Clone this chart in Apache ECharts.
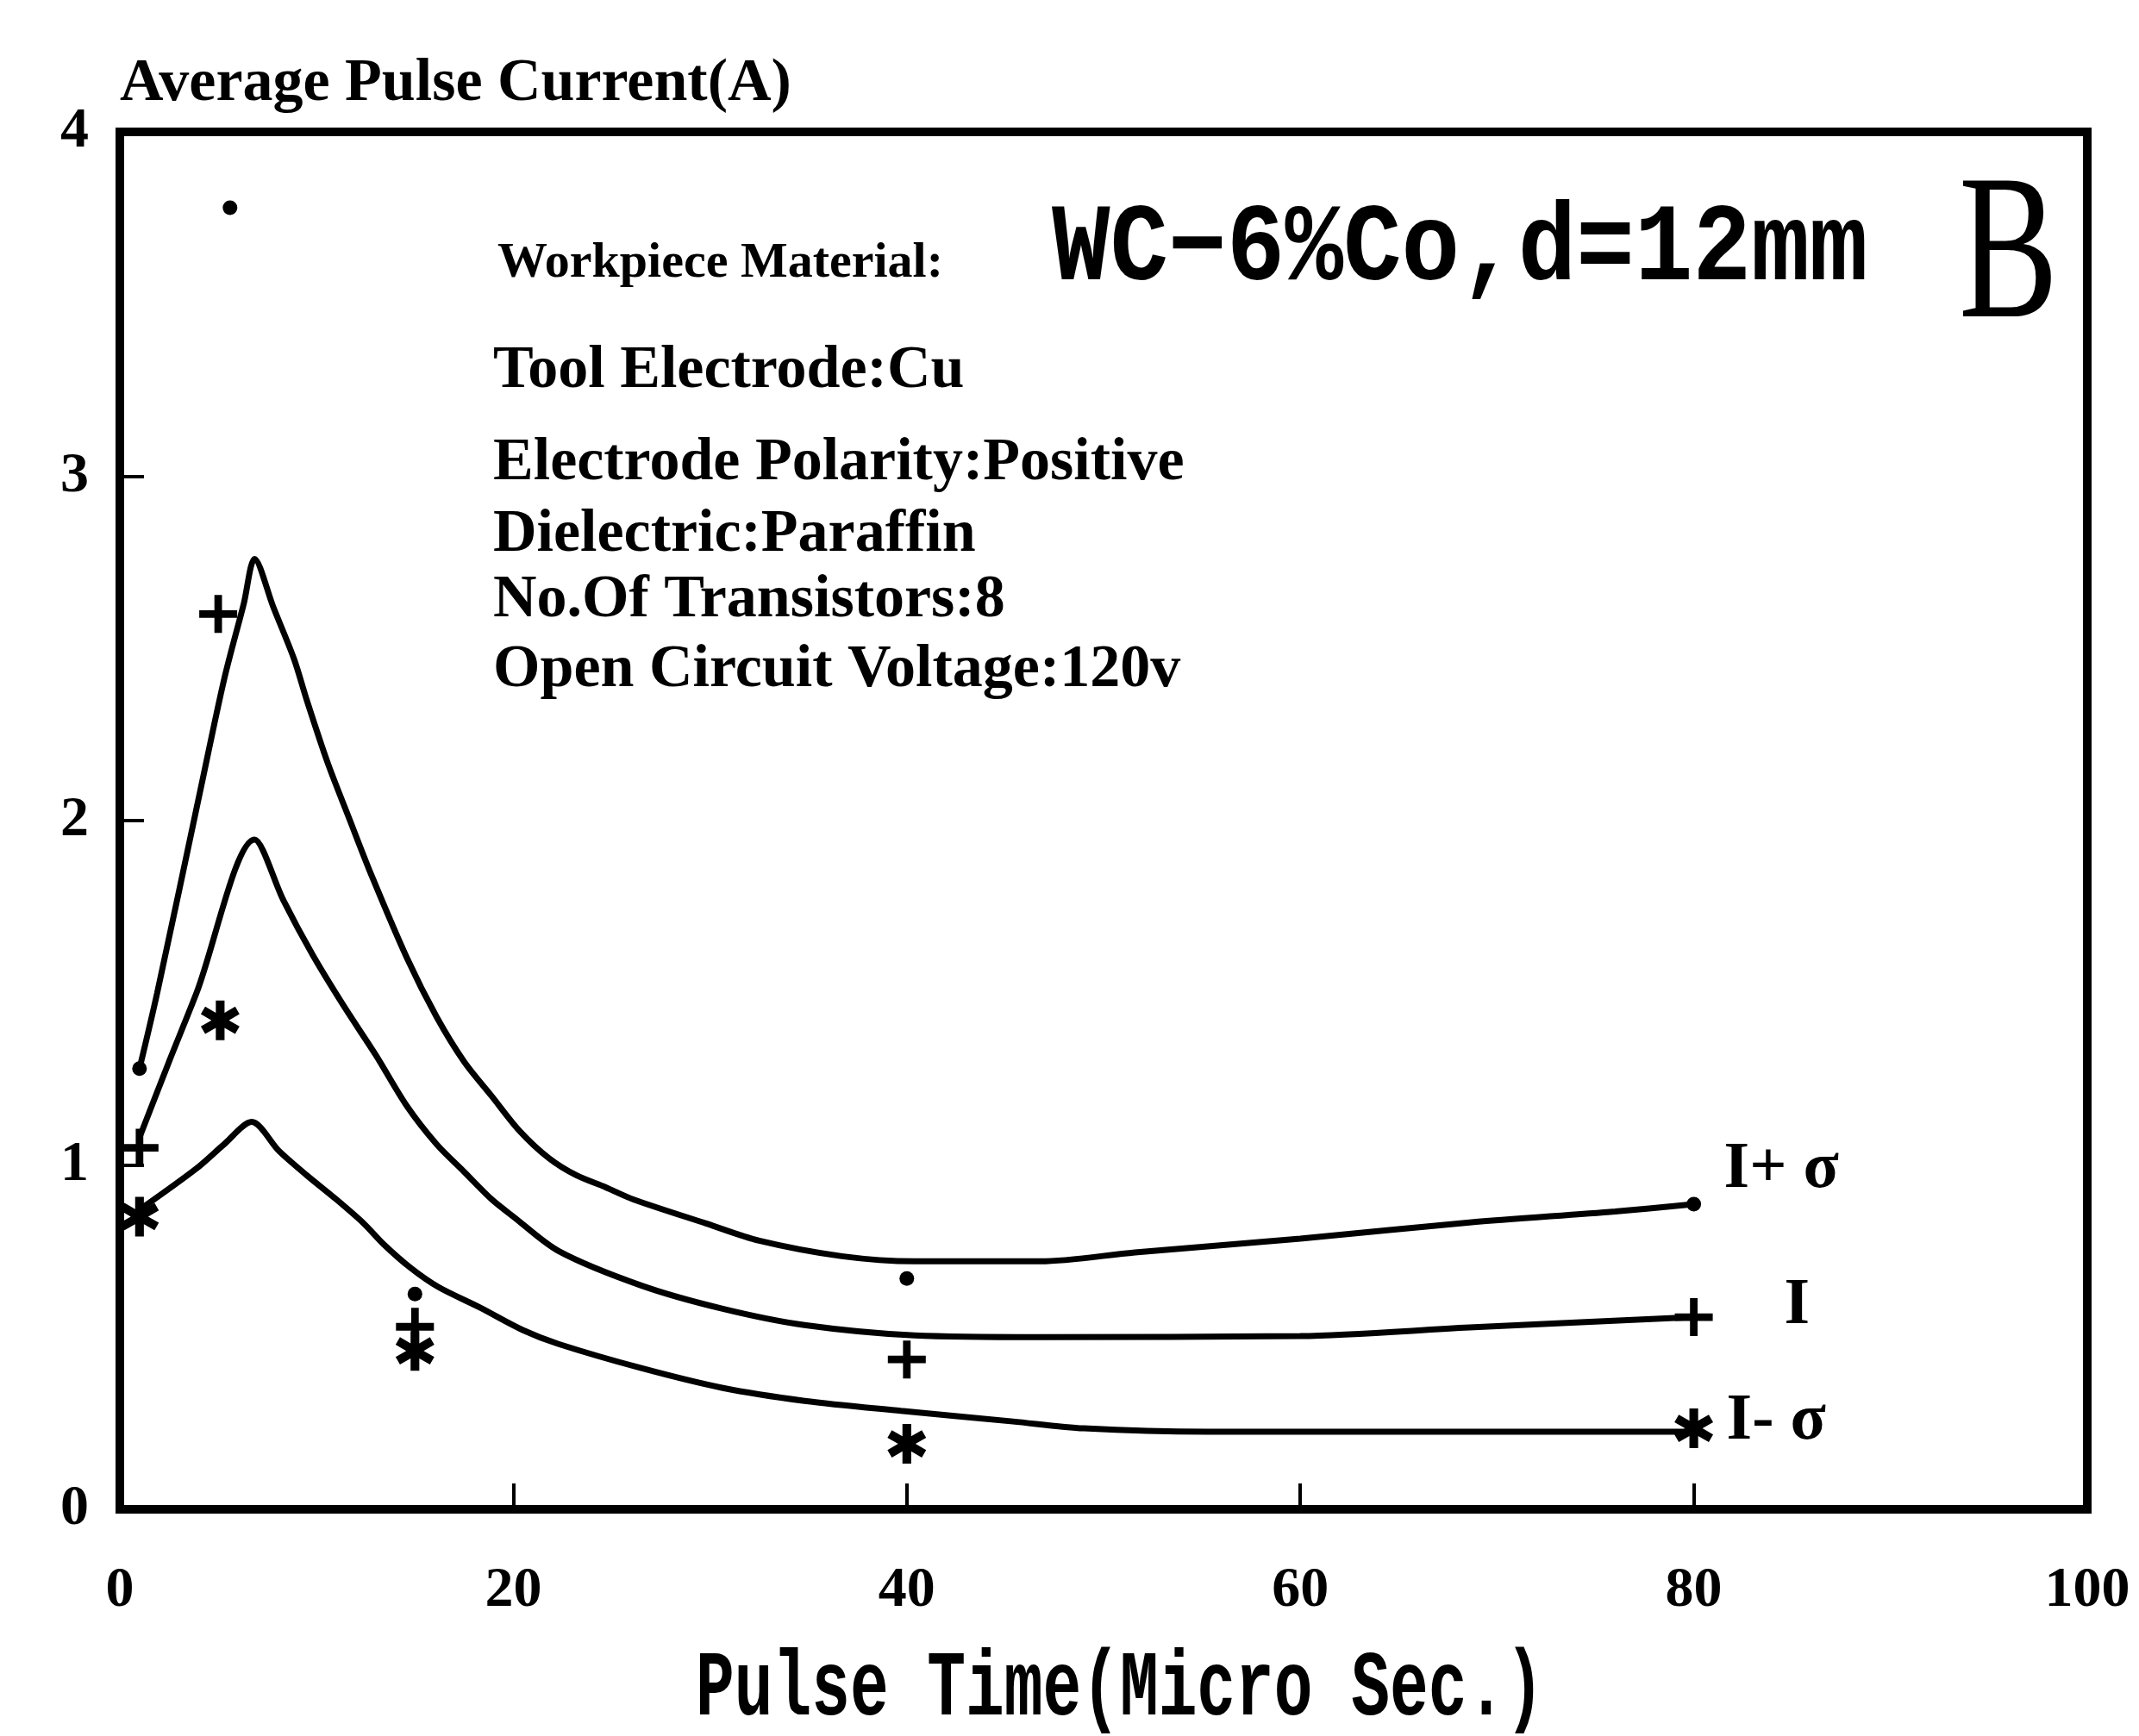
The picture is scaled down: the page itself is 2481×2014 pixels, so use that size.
<!DOCTYPE html>
<html>
<head>
<meta charset="utf-8">
<title>Average Pulse Current vs Pulse Time</title>
<script src="https://cdn.jsdelivr.net/npm/echarts@6/dist/echarts.min.js"></script>
<style>
  html, body { margin: 0; padding: 0; background: #fff; }
  #chart { width: 2481px; height: 2014px; }
</style>
</head>
<body>
<div id="chart"></div>
<script>
// fitted curves: [pulse time (µs), current (A)]
const curvePlus = [
  [1, 1.28], [1.9, 1.50], [4.1, 2.09], [5.3, 2.41], [6.3, 2.63], [6.85, 2.76],
  [7.8, 2.62], [8.85, 2.47], [9.5, 2.35], [10.55, 2.17], [11.7, 2.00], [12.8, 1.84],
  [14.6, 1.60], [16.1, 1.43], [17.5, 1.30], [18.9, 1.20], [20.3, 1.10], [21.8, 1.02],
  [23.2, 0.97], [24.7, 0.935], [26.1, 0.90], [29.8, 0.83], [32.5, 0.78], [36.7, 0.735],
  [40.4, 0.72], [46.8, 0.72], [51.6, 0.746], [60, 0.786], [68.6, 0.833], [76, 0.865], [80, 0.886]
]
const curveMean = [
  [1, 1.08], [2.5, 1.30], [3.9, 1.50], [6.85, 1.945], [8.3, 1.77], [9.8, 1.61],
  [11.4, 1.46], [13.0, 1.32], [14.6, 1.17], [16.1, 1.06], [17.5, 0.98], [18.9, 0.90],
  [20.0, 0.85], [22.3, 0.75], [26.5, 0.65], [30.6, 0.583], [34.8, 0.535], [40.4, 0.505],
  [46.8, 0.50], [60, 0.503], [68.6, 0.528], [80, 0.558]
]
const curveMinus = [
  [1, 0.87], [3.9, 0.99], [5.3, 1.06], [6.7, 1.125], [8.1, 1.04], [9.5, 0.97],
  [11.0, 0.90], [12.4, 0.83], [13.4, 0.77], [14.8, 0.70], [16.2, 0.645], [18.3, 0.586],
  [20.5, 0.52], [22.3, 0.48], [26.5, 0.41], [30.6, 0.353], [34.8, 0.315], [39.7, 0.286],
  [45.4, 0.255], [49, 0.235], [55.3, 0.225], [80, 0.225]
]

// measured points
const ptsDot = [[1, 1.28], [5.6, 3.78], [15, 0.625], [40, 0.67], [80, 0.886]]
const ptsPlus = [[1, 1.05], [5, 2.60], [15, 0.53], [40, 0.435], [80, 0.558]]
const ptsStar = [[1, 0.85], [5.1, 1.42], [15, 0.46], [40, 0.19], [80, 0.235]]

const curveNames = ['I+ σ', 'I', 'I- σ']
const yTitle = 'Average Pulse Current(A)'
const xTitle = 'Pulse Time(Micro Sec.)'
const materialLabel = 'Workpiece Material:'
const materialValue = 'WC−6%Co,d=12mm'
const panelLetter = 'B'
const noteLines = [
  'Tool Electrode:Cu',
  'Electrode Polarity:Positive',
  'Dielectric:Paraffin',
  'No.Of Transistors:8',
  'Open Circuit Voltage:120v'
]

const PLUS = 'path://M8,0H12V8H20V12H12V20H8V12H0V8H8Z'
// six-armed asterisk outline
const STAR = 'path://M12.2,20L7.8,20L7.8,13.81L2.44,16.91L0.24,13.1L5.6,10L0.24,6.91L2.44,3.1L7.8,6.19' +
  'L7.8,0L12.2,0L12.2,6.19L17.56,3.1L19.76,6.91L14.4,10L19.76,13.1L17.56,16.91L12.2,13.81Z'

const SERIF = '"Liberation Serif", "DejaVu Serif", serif'
const MONO = '"Liberation Mono", "DejaVu Sans Mono", monospace'

const chart = echarts.init(document.getElementById('chart'))

const lineSeries = (data, name, offset) => ({
  name: name,
  type: 'line',
  data: data,
  smooth: 0.3,
  showSymbol: false,
  lineStyle: { color: '#000', width: 7 },
  endLabel: {
    show: true,
    formatter: name,
    offset: offset,
    color: '#000',
    fontFamily: SERIF,
    fontWeight: 'bold',
    fontSize: 76
  },
  z: 3
})

const markSeries = (data, symbol, size) => ({
  type: 'scatter',
  data: data,
  symbol: symbol,
  symbolSize: size,
  symbolKeepAspect: true,
  itemStyle: { color: '#000', opacity: 1 },
  z: 4
})

// vertical centres of the condition notes
const noteY = [431, 538, 621, 697, 778]

const option = {
  backgroundColor: '#fff',
  animation: false,
  grid: {
    left: 139, right: 60, top: 153, bottom: 263,
    show: true, borderColor: '#000', borderWidth: 10
  },
  xAxis: {
    type: 'value',
    min: 0, max: 100, interval: 20,
    axisLine: { show: true, lineStyle: { color: '#000', width: 10 } },
    axisTick: { show: true, inside: true, length: 30, lineStyle: { color: '#000', width: 4 } },
    axisLabel: { margin: 62, color: '#000', fontFamily: SERIF, fontWeight: 'bold', fontSize: 66 },
    splitLine: { show: false }
  },
  yAxis: {
    type: 'value',
    min: 0, max: 4, interval: 1,
    name: yTitle,
    nameLocation: 'end',
    nameGap: 20,
    nameTextStyle: {
      align: 'left', verticalAlign: 'bottom',
      color: '#000', fontFamily: SERIF, fontWeight: 'bold', fontSize: 70
    },
    axisLine: { show: true, lineStyle: { color: '#000', width: 10 } },
    axisTick: { show: true, inside: true, length: 28, lineStyle: { color: '#000', width: 4 } },
    axisLabel: { margin: 36, color: '#000', fontFamily: SERIF, fontWeight: 'bold', fontSize: 66 },
    splitLine: { show: false }
  },
  series: [
    lineSeries(curvePlus, curveNames[0], [27, -40]),
    lineSeries(curveMean, curveNames[1], [97, -13]),
    lineSeries(curveMinus, curveNames[2], [30, -12]),
    markSeries(ptsDot, 'circle', 17),
    markSeries(ptsPlus, PLUS, 44),
    markSeries(ptsStar, STAR, 46)
  ],
  graphic: [
    {
      type: 'text', x: 577, y: 306,
      style: { text: materialLabel, font: 'bold 58px ' + SERIF, fill: '#000', align: 'left', verticalAlign: 'middle' }
    },
    {
      type: 'text', x: 1220, y: 292, scaleX: 0.88,
      style: { text: materialValue, font: 'bold 128px ' + MONO, fill: '#000', align: 'left', verticalAlign: 'middle' }
    },
    {
      type: 'text', x: 2272, y: 304, scaleX: 0.72,
      style: { text: panelLetter, font: '240px ' + SERIF, fill: '#000', align: 'left', verticalAlign: 'middle' }
    },
    ...noteLines.map((t, i) => ({
      type: 'text', x: 572, y: noteY[i],
      style: { text: t, font: 'bold 70px ' + SERIF, fill: '#000', align: 'left', verticalAlign: 'middle' }
    })),
    {
      type: 'text', x: 807, y: 1962, scaleX: 0.69,
      style: { text: xTitle, font: 'bold 108px ' + MONO, fill: '#000', align: 'left', verticalAlign: 'middle' }
    }
  ]
}

chart.setOption(option)
</script>
</body>
</html>
